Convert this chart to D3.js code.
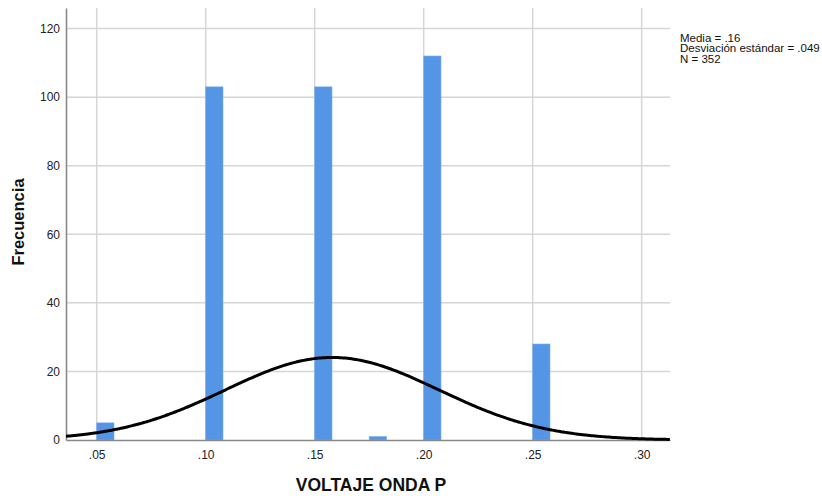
<!DOCTYPE html>
<html>
<head>
<meta charset="utf-8">
<script src="https://cdn.jsdelivr.net/npm/d3@7/dist/d3.min.js"></script>
<style>
  html, body { margin: 0; padding: 0; background: #fff; }
  svg { display: block; font-family: Arial, "Liberation Sans", sans-serif; }
</style>
</head>
<body>
<svg id="chart" width="822" height="496"></svg>
<script>
// Histogram of P-wave voltage: bin start values and frequencies
const binStarts = [0.05, 0.10, 0.15, 0.175, 0.20, 0.25];
const counts = [5, 103, 103, 1, 112, 28];
const binWidth = 0.0084;

// Summary statistics for the fitted normal curve
const meanVal = 0.158;
const sdVal = 0.049;
const nVal = 352;

// Axis ticks
const xTicks = [0.05, 0.10, 0.15, 0.20, 0.25, 0.30];
const yTicks = [0, 20, 40, 60, 80, 100, 120];

const svg = d3.select("#chart");
const plot = { left: 66, right: 670, top: 8, bottom: 440 };

const x = d3.scaleLinear().domain([0.03592, 0.31299]).range([plot.left, plot.right]);
const y = d3.scaleLinear().domain([0, 126]).range([plot.bottom, plot.top]);

const noLead = v => d3.format(".2f")(v).replace(/^0/, "");
const gridColor = "#d6d6d6";

// Gridlines
svg.append("g").selectAll("line").data(yTicks.filter(t => t > 0)).join("line")
  .attr("x1", plot.left).attr("x2", plot.right)
  .attr("y1", d => y(d)).attr("y2", d => y(d))
  .attr("stroke", gridColor).attr("stroke-width", 1.5);
svg.append("g").selectAll("line").data(xTicks).join("line")
  .attr("x1", d => x(d)).attr("x2", d => x(d))
  .attr("y1", plot.top).attr("y2", plot.bottom)
  .attr("stroke", gridColor).attr("stroke-width", 1.5);

// Bars
svg.append("g").selectAll("rect").data(binStarts).join("rect")
  .attr("x", d => x(d))
  .attr("width", d => x(d + binWidth) - x(d) - 1)
  .attr("y", (d, i) => y(counts[i]))
  .attr("height", (d, i) => y(0) - y(counts[i]))
  .attr("fill", "#5595e5")
  .attr("stroke", "#7aaeee").attr("stroke-width", 0.6);

// Axes
const yAxis = d3.axisLeft(y).tickValues(yTicks).tickSize(0).tickPadding(6).tickFormat(d3.format("d"));
const gy = svg.append("g").attr("transform", `translate(${plot.left},0)`).call(yAxis);
gy.select(".domain").attr("stroke", "#8a8a8a").attr("stroke-width", 1.6);
gy.selectAll("text").attr("font-size", 12).attr("fill", "#222").attr("font-family", "Arial, 'Liberation Sans', sans-serif");

const xAxis = d3.axisBottom(x).tickValues(xTicks).tickSize(0).tickPadding(10).tickFormat(noLead);
const gx = svg.append("g").attr("transform", `translate(0,${plot.bottom})`).call(xAxis);
gx.select(".domain").attr("stroke", "#8a8a8a").attr("stroke-width", 1.6);
gx.selectAll("text").attr("font-size", 12).attr("fill", "#222").attr("font-family", "Arial, 'Liberation Sans', sans-serif");

// Fitted normal curve scaled to counts
const scale = nVal * binWidth;
const curvePts = d3.range(x.domain()[0], x.domain()[1] + 1e-9, 0.001).map(v => [
  v,
  scale * Math.exp(-0.5 * Math.pow((v - meanVal) / sdVal, 2)) / (sdVal * Math.sqrt(2 * Math.PI))
]);
svg.append("path").datum(curvePts)
  .attr("d", d3.line().x(d => x(d[0])).y(d => y(d[1])).curve(d3.curveBasis))
  .attr("fill", "none").attr("stroke", "#000").attr("stroke-width", 3);

// Axis titles
svg.append("text").attr("x", 371).attr("y", 491).attr("text-anchor", "middle")
  .attr("font-size", 17.5).attr("font-weight", "bold").attr("fill", "#111")
  .text("VOLTAJE ONDA P");
svg.append("text").attr("transform", "translate(24,222) rotate(-90)").attr("text-anchor", "middle")
  .attr("font-size", 16.5).attr("font-weight", "bold").attr("fill", "#111")
  .text("Frecuencia");

// Summary statistics
const stats = [
  "Media = " + noLead(meanVal),
  "Desviación estándar = " + d3.format(".3f")(sdVal).replace(/^0/, ""),
  "N = " + nVal
];
svg.append("g").selectAll("text").data(stats).join("text")
  .attr("x", 680).attr("y", (d, i) => 41.5 + i * 10.6)
  .attr("font-size", 11.5).attr("fill", "#111")
  .text(d => d);
</script>
</body>
</html>
